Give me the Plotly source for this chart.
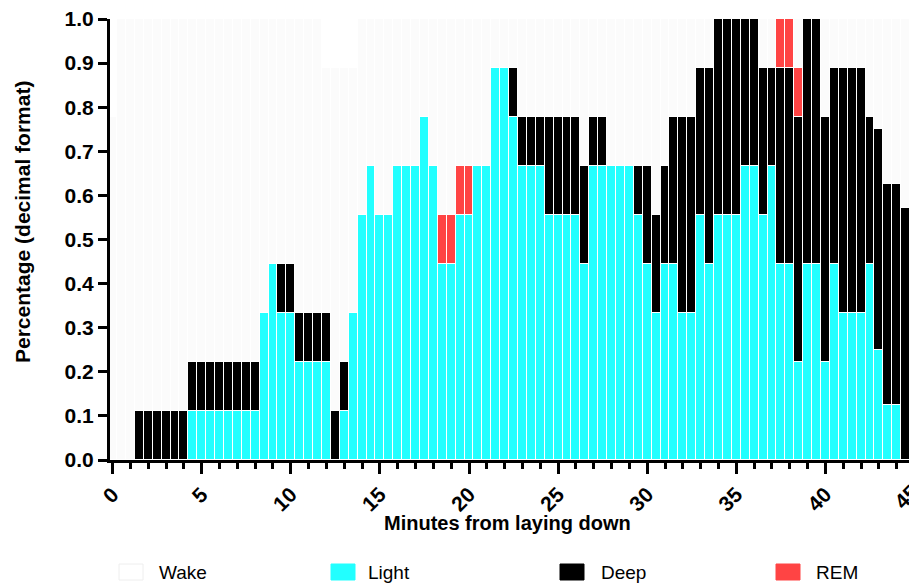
import plotly.graph_objects as go

# ---------------- data (counts of subjects per 30-s epoch) ----------------
minutes = [0.0, 0.5, 1.0, 1.5, 2.0, 2.5, 3.0, 3.5, 4.0, 4.5,
           5.0, 5.5, 6.0, 6.5, 7.0, 7.5, 8.0, 8.5, 9.0, 9.5,
           10.0, 10.5, 11.0, 11.5, 12.0, 12.5, 13.0, 13.5, 14.0, 14.5,
           15.0, 15.5, 16.0, 16.5, 17.0, 17.5, 18.0, 18.5, 19.0, 19.5,
           20.0, 20.5, 21.0, 21.5, 22.0, 22.5, 23.0, 23.5, 24.0, 24.5,
           25.0, 25.5, 26.0, 26.5, 27.0, 27.5, 28.0, 28.5, 29.0, 29.5,
           30.0, 30.5, 31.0, 31.5, 32.0, 32.5, 33.0, 33.5, 34.0, 34.5,
           35.0, 35.5, 36.0, 36.5, 37.0, 37.5, 38.0, 38.5, 39.0, 39.5,
           40.0, 40.5, 41.0, 41.5, 42.0, 42.5, 43.0, 43.5, 44.0, 44.5]

light_n = [0, 0, 0, 0, 0, 0, 0, 0, 0, 1,
           1, 1, 1, 1, 1, 1, 1, 3, 4, 3,
           3, 2, 2, 2, 2, 0, 1, 3, 5, 6,
           5, 5, 6, 6, 6, 7, 6, 4, 4, 5,
           5, 6, 6, 8, 8, 7, 6, 6, 6, 5,
           5, 5, 5, 4, 6, 6, 6, 6, 6, 5,
           4, 3, 4, 4, 3, 3, 5, 4, 5, 5,
           5, 6, 6, 5, 6, 4, 4, 2, 4, 4,
           2, 4, 3, 3, 3, 4, 2, 1, 1, 0]

deep_n = [0, 0, 0, 1, 1, 1, 1, 1, 1, 1,
          1, 1, 1, 1, 1, 1, 1, 0, 0, 1,
          1, 1, 1, 1, 1, 1, 1, 0, 0, 0,
          0, 0, 0, 0, 0, 0, 0, 0, 0, 0,
          0, 0, 0, 0, 0, 1, 1, 1, 1, 2,
          2, 2, 2, 2, 1, 1, 0, 0, 0, 1,
          2, 2, 2, 3, 4, 4, 3, 4, 4, 4,
          4, 3, 3, 3, 2, 4, 4, 5, 5, 5,
          5, 4, 5, 5, 5, 3, 4, 4, 4, 4]

rem_n = [0, 0, 0, 0, 0, 0, 0, 0, 0, 0,
         0, 0, 0, 0, 0, 0, 0, 0, 0, 0,
         0, 0, 0, 0, 0, 0, 0, 0, 0, 0,
         0, 0, 0, 0, 0, 0, 0, 1, 1, 1,
         1, 0, 0, 0, 0, 0, 0, 0, 0, 0,
         0, 0, 0, 0, 0, 0, 0, 0, 0, 0,
         0, 0, 0, 0, 0, 0, 0, 0, 0, 0,
         0, 0, 0, 0, 0, 1, 1, 1, 0, 0,
         0, 0, 0, 0, 0, 0, 0, 0, 0, 0]

wake_n = [7, 9, 9, 8, 8, 8, 8, 8, 8, 7,
          7, 7, 7, 7, 7, 7, 7, 6, 5, 5,
          5, 6, 6, 6, 5, 7, 6, 5, 4, 3,
          4, 4, 3, 3, 3, 2, 3, 4, 4, 3,
          3, 3, 3, 1, 1, 1, 2, 2, 2, 2,
          2, 2, 2, 3, 2, 2, 3, 3, 3, 3,
          3, 4, 3, 2, 2, 2, 1, 1, 0, 0,
          0, 0, 0, 1, 1, 0, 0, 1, 0, 0,
          2, 1, 1, 1, 1, 2, 2, 3, 3, 3]

subjects = [9] * 86 + [8, 8, 8, 7]

light = [n / d for n, d in zip(light_n, subjects)]
deep = [n / d for n, d in zip(deep_n, subjects)]
rem = [n / d for n, d in zip(rem_n, subjects)]
wake = [n / d for n, d in zip(wake_n, subjects)]

y_ticks = [0.0, 0.1, 0.2, 0.3, 0.4, 0.5, 0.6, 0.7, 0.8, 0.9, 1.0]
x_ticks = [0, 5, 10, 15, 20, 25, 30, 35, 40]

series = [("Light", light, "#22FFFF"),
          ("Deep", deep, "#000000"),
          ("REM", rem, "#FF4444"),
          ("Wake", wake, "#FBFBFB")]

# ---------------- layout constants (window pixels) ----------------
W, H = 909, 586
PX0, PX1, PY0, PY1 = 110, 909, 19, 460
L, R, T, B = PX0, W - PX1, PY0, H - PY1


def px_x(p):  # window pixel -> paper x
    return (p - PX0) / (PX1 - PX0)


def px_y(p):  # window pixel -> paper y
    return (PY1 - p) / (PY1 - PY0)


FONT = "Liberation Sans, Arial, Helvetica, sans-serif"

fig = go.Figure()
for name, vals, color in series:
    fig.add_trace(go.Bar(
        x=minutes, y=vals, name=name, width=0.5,
        marker=dict(color=color, line=dict(color="white", width=1)),
        showlegend=False,
    ))

fig.update_layout(
    width=W, height=H,
    margin=dict(l=L, r=R, t=T, b=B, pad=0),
    barmode="stack", bargap=0,
    plot_bgcolor="white", paper_bgcolor="white",
    font=dict(family=FONT, color="black"),
    xaxis=dict(
        range=[-0.146, 44.69],
        tickmode="array", tickvals=x_ticks, ticktext=[str(v) for v in x_ticks],
        ticks="outside", ticklen=11, tickwidth=2.5, tickcolor="black",
        tickangle=-45,
        tickfont=dict(family=FONT, size=21, color="black", weight="bold"),
        showline=True, linewidth=3, linecolor="black",
        showgrid=False, zeroline=False,
        minor=dict(dtick=1, tick0=0, ticks="outside", ticklen=6, tickwidth=2.5,
                   tickcolor="black", showgrid=False),
    ),
    yaxis=dict(
        range=[0, 1.0],
        tickmode="array", tickvals=y_ticks, ticktext=[f"{v:.1f}" for v in y_ticks],
        ticks="outside", ticklen=9, tickwidth=2.5, tickcolor="black",
        tickfont=dict(family=FONT, size=21, color="black", weight="bold"),
        showline=True, linewidth=3, linecolor="black",
        showgrid=False, zeroline=False,
    ),
)

annotations = [
    dict(text="Minutes from laying down", xref="paper", yref="paper",
         x=px_x(507), y=px_y(523), xanchor="center", yanchor="middle",
         showarrow=False, font=dict(family=FONT, size=20, color="black", weight="bold")),
    dict(text="Percentage (decimal format)", xref="paper", yref="paper",
         x=px_x(22), y=px_y(222), xanchor="center", yanchor="middle", textangle=-90,
         showarrow=False, font=dict(family=FONT, size=21, color="black", weight="bold")),
    # the 45 tick label sits at the very edge of the figure and is partly cut off
    dict(text="45", xref="paper", yref="paper", x=px_x(906), y=px_y(496),
         xanchor="center", yanchor="middle", textangle=-45, showarrow=False,
         font=dict(family=FONT, size=21, color="black", weight="bold")),
]

shapes = []
legend_items = [("Wake", "#FFFFFF", 119, 157),
                ("Light", "#22FFFF", 331, 366),
                ("Deep", "#000000", 560, 599),
                ("REM", "#FF4444", 776, 814)]
for name, color, sx, tx in legend_items:
    shapes.append(dict(type="rect", xref="paper", yref="paper",
                       x0=px_x(sx), x1=px_x(sx + 24), y0=px_y(580), y1=px_y(564),
                       fillcolor=color,
                       line=dict(color="#EEEEEE" if name == "Wake" else color, width=1)))
    annotations.append(dict(text=name, xref="paper", yref="paper", x=px_x(tx), y=px_y(572),
                            xanchor="left", yanchor="middle", showarrow=False,
                            font=dict(family=FONT, size=19, color="black")))

fig.update_layout(annotations=annotations, shapes=shapes)

fig.write_html(
    "out.html",
    config={"displayModeBar": False},
    post_script=("document.documentElement.style.margin='0';"
                 "document.documentElement.style.overflow='hidden';"
                 "document.body.style.margin='0';"
                 "document.body.style.overflow='hidden';"),
)
